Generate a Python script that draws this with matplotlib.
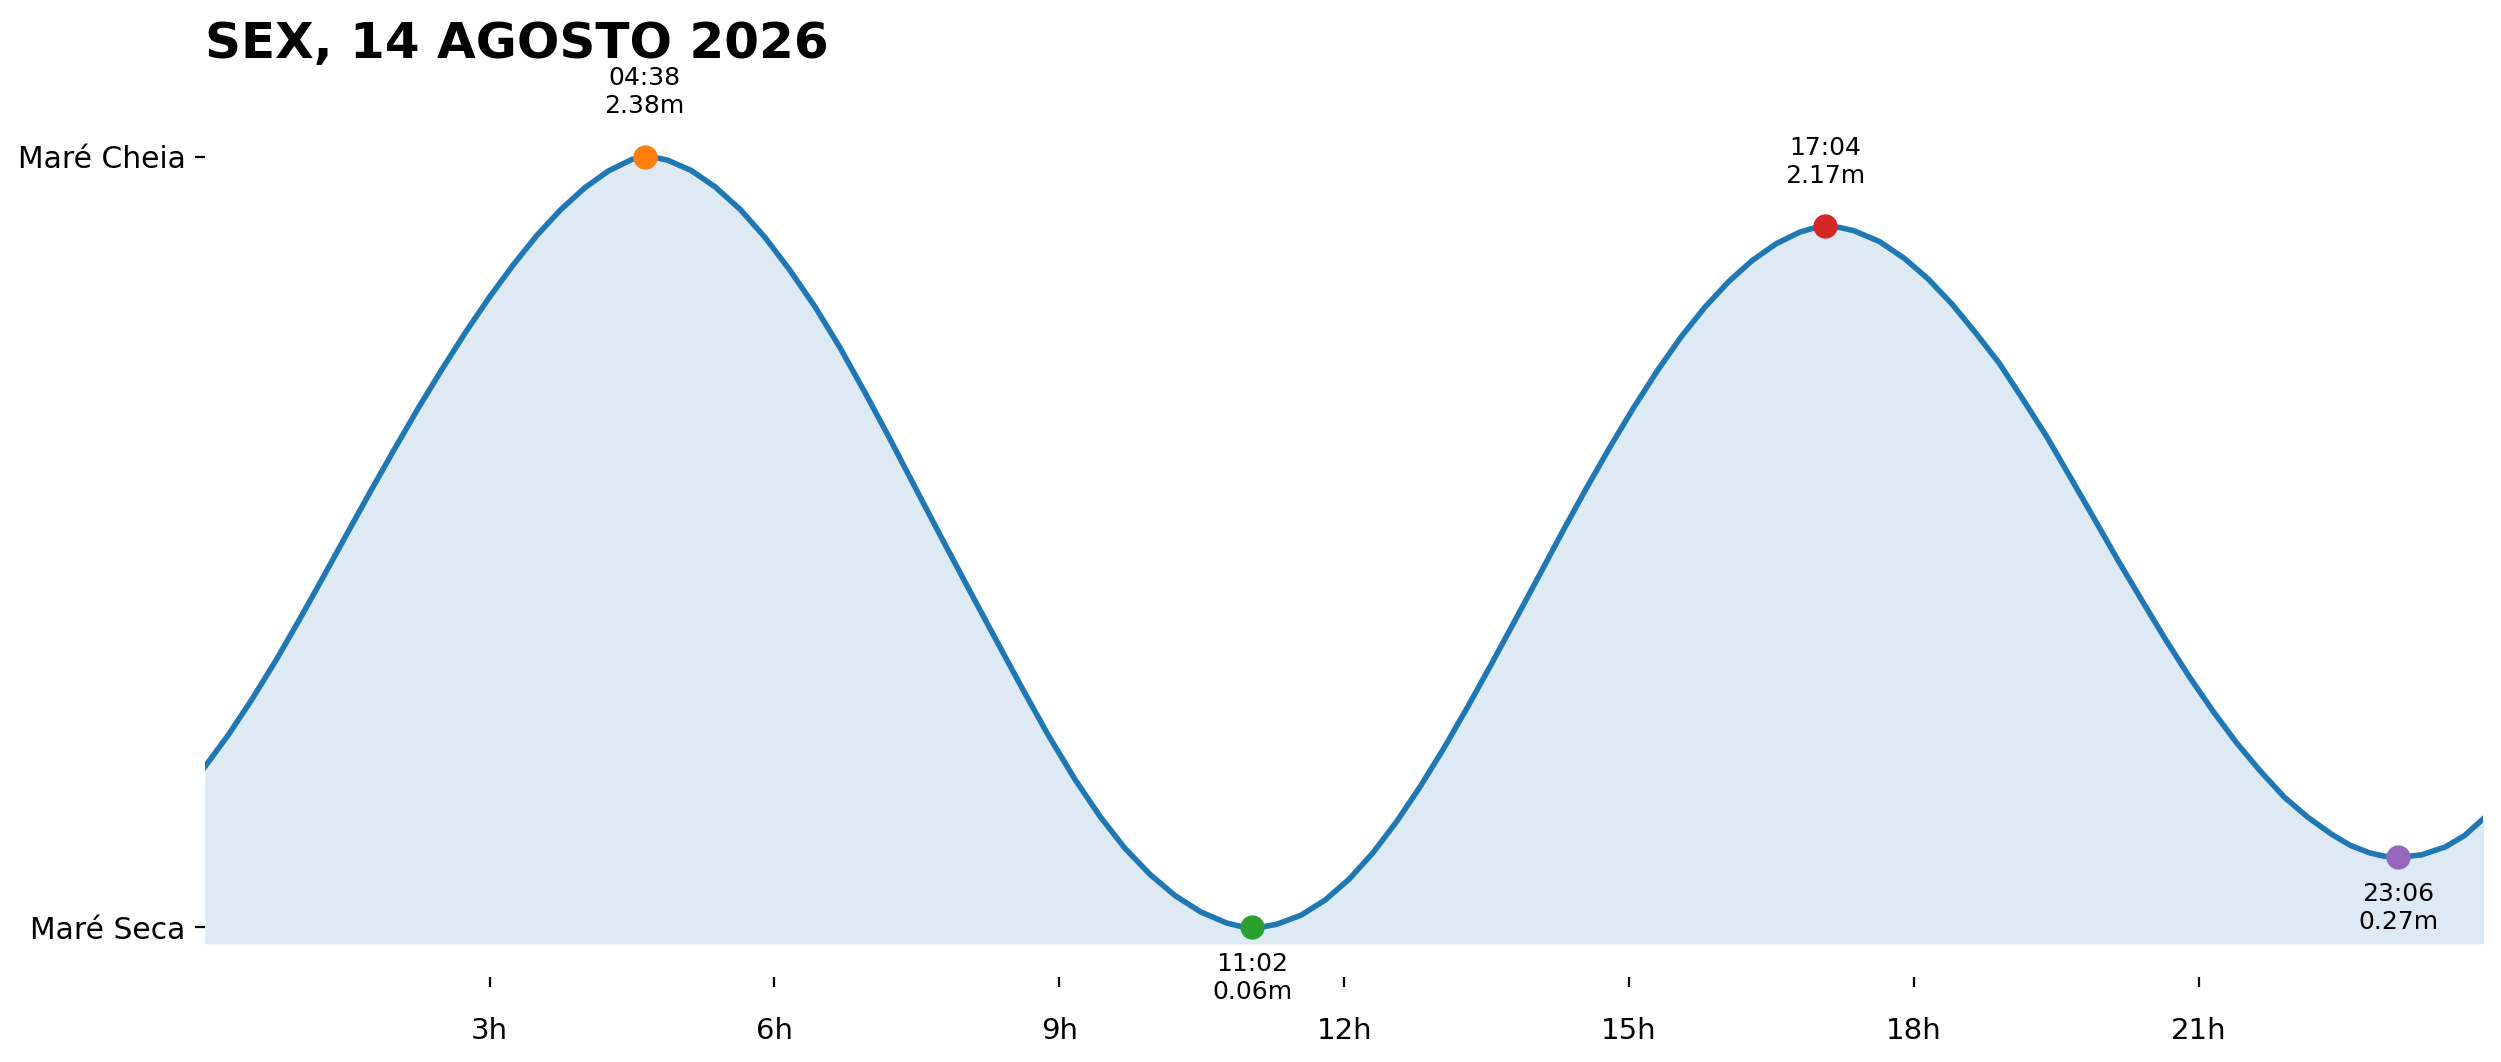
import numpy as np
import matplotlib
matplotlib.use('Agg')
import matplotlib.pyplot as plt

# tide height (m), hours since midnight
hours = [0.0, 0.25, 0.5, 0.75, 1.0, 1.25, 1.5, 1.75, 2.0, 2.25, 2.5, 2.75, 3.0, 3.25,
         3.5, 3.75, 4.0, 4.25, 4.5, 4.633, 4.75, 4.87, 5.12, 5.375, 5.64, 5.9, 6.16,
         6.425, 6.69, 6.955, 7.22, 7.48, 7.74, 8.0, 8.3, 8.6, 8.88, 9.165, 9.43, 9.69,
         9.955, 10.22, 10.49, 10.76, 10.9, 11.033, 11.16, 11.29, 11.545, 11.8, 12.05,
         12.3, 12.55, 12.8, 13.05, 13.3, 13.55, 13.8, 14.05, 14.3, 14.55, 14.8, 15.05,
         15.3, 15.55, 15.8, 16.05, 16.3, 16.55, 16.8, 16.93, 17.067, 17.22, 17.37,
         17.635, 17.9, 18.15, 18.4, 18.65, 18.9, 19.15, 19.4, 19.65, 19.9, 20.15, 20.4,
         20.65, 20.9, 21.15, 21.4, 21.65, 21.9, 22.15, 22.4, 22.6, 22.8, 22.95, 23.1,
         23.35, 23.6, 23.8, 24.0]
height = [0.543, 0.640, 0.748, 0.864, 0.988, 1.116, 1.246, 1.375, 1.501, 1.624, 1.741,
          1.853, 1.958, 2.055, 2.144, 2.221, 2.286, 2.337, 2.372, 2.38, 2.377, 2.370,
          2.339, 2.289, 2.221, 2.137, 2.039, 1.929, 1.805, 1.669, 1.528, 1.385, 1.243,
          1.103, 0.943, 0.784, 0.640, 0.505, 0.393, 0.298, 0.219, 0.155, 0.106, 0.073,
          0.063, 0.06, 0.062, 0.069, 0.096, 0.142, 0.204, 0.283, 0.377, 0.483, 0.599,
          0.723, 0.852, 0.984, 1.117, 1.251, 1.381, 1.506, 1.625, 1.736, 1.838, 1.927,
          2.004, 2.068, 2.118, 2.153, 2.164, 2.17, 2.167, 2.157, 2.125, 2.074, 2.012,
          1.937, 1.850, 1.758, 1.649, 1.537, 1.414, 1.290, 1.165, 1.045, 0.927, 0.815,
          0.711, 0.615, 0.530, 0.452, 0.391, 0.340, 0.306, 0.284, 0.274, 0.27, 0.278,
          0.302, 0.336, 0.387]

# extremes of the day
ext_time = [4.633, 11.033, 17.067, 23.1]
ext_height = [2.38, 0.06, 2.17, 0.27]
ext_label = ['04:38\n2.38m', '11:02\n0.06m', '17:04\n2.17m', '23:06\n0.27m']
ext_high = [True, False, True, False]

xticks = [3, 6, 9, 12, 15, 18, 21]
xlabels = ['3h', '6h', '9h', '12h', '15h', '18h', '21h']
ylabels = ['Maré Seca', 'Maré Cheia']
title = 'SEX, 14 AGOSTO 2026'

fig = plt.figure(figsize=(12.505, 5.31), dpi=200)
ax = fig.add_axes([0.0819, 0.080, 0.9111, 0.850])

ax.plot(hours, height, color='C0', lw=2)
ax.fill_between(hours, height, min(height) - 0.05, color='C0', alpha=0.15, lw=0)

for i in range(len(ext_time)):
    ax.scatter([ext_time[i]], [ext_height[i]], s=60, color=f'C{i + 1}', zorder=5)
    if ext_high[i]:
        ax.annotate(ext_label[i], (ext_time[i], ext_height[i]), xytext=(0, 14),
                    textcoords='offset points', ha='center', va='bottom', fontsize=9)
    else:
        ax.annotate(ext_label[i], (ext_time[i], ext_height[i]), xytext=(0, -9),
                    textcoords='offset points', ha='center', va='top', fontsize=9)

ax.set_xlim(0, 24)
ax.set_ylim(-0.09, 2.628)
ax.set_xticks(xticks)
ax.set_xticklabels(xlabels, fontsize=10.5)
ax.set_yticks([min(ext_height), max(ext_height)])
ax.set_yticklabels(ylabels, fontsize=10.7)
ax.tick_params(axis='x', pad=11)
for s in ax.spines.values():
    s.set_visible(False)

ax.set_title(title, loc='left', fontsize=18, fontweight='bold')

fig.savefig('out.png', dpi=200)
